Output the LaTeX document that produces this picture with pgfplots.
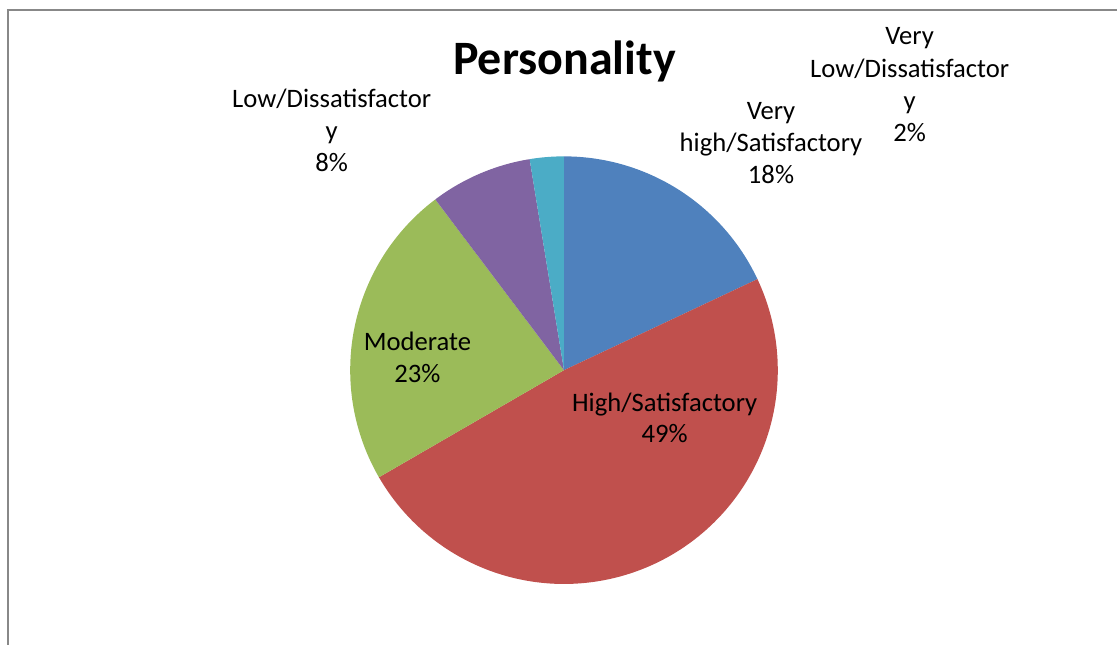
\documentclass[border=0pt]{standalone}
\usepackage{fontspec}
\setmainfont{Carlito}
\usepackage{pgfplots}
\pgfplotsset{compat=1.18}
\definecolor{cA}{HTML}{4F81BD}
\definecolor{cB}{HTML}{C0504D}
\definecolor{cC}{HTML}{9BBB59}
\definecolor{cD}{HTML}{8064A2}
\definecolor{cE}{HTML}{4BACC6}
\definecolor{frame}{HTML}{888888}
% slice values (percent)
\def\vA{18.00}  % Very high/Satisfactory
\def\vB{48.65}  % High/Satisfactory
\def\vC{23.07}  % Moderate
\def\vD{7.71}   % Low/Dissatisfactory
\def\vE{2.57}   % Very Low/Dissatisfactory
\def\cx{564.5}
\def\cy{275.5}
\def\rr{214}
\begin{document}
\begin{tikzpicture}
\begin{axis}[hide axis, scale only axis, width=419.25pt, height=242.25pt,
  xmin=0, xmax=1118, ymin=0, ymax=646, clip=false]
\addplot[fill=cA, draw=none, samples=80,
  domain={90-3.6*\vA}:{90}]
  ({\cx+\rr*cos(x)},{\cy+\rr*sin(x)}) -- (axis cs:\cx,\cy) -- cycle;
\addplot[fill=cB, draw=none, samples=120,
  domain={90-3.6*(\vA+\vB)}:{90-3.6*\vA}]
  ({\cx+\rr*cos(x)},{\cy+\rr*sin(x)}) -- (axis cs:\cx,\cy) -- cycle;
\addplot[fill=cC, draw=none, samples=80,
  domain={90-3.6*(\vA+\vB+\vC)}:{90-3.6*(\vA+\vB)}]
  ({\cx+\rr*cos(x)},{\cy+\rr*sin(x)}) -- (axis cs:\cx,\cy) -- cycle;
\addplot[fill=cD, draw=none, samples=40,
  domain={90-3.6*(\vA+\vB+\vC+\vD)}:{90-3.6*(\vA+\vB+\vC)}]
  ({\cx+\rr*cos(x)},{\cy+\rr*sin(x)}) -- (axis cs:\cx,\cy) -- cycle;
\addplot[fill=cE, draw=none, samples=20,
  domain={90-3.6*(\vA+\vB+\vC+\vD+\vE)}:{90-3.6*(\vA+\vB+\vC+\vD)}]
  ({\cx+\rr*cos(x)},{\cy+\rr*sin(x)}) -- (axis cs:\cx,\cy) -- cycle;
% frame
\draw[frame, line width=0.75pt] (axis cs:7,636) -- (axis cs:1118,636);
\draw[frame, line width=0.75pt] (axis cs:8,636.4) -- (axis cs:8,0);
% title
\node[anchor=base, font=\fontsize{18}{22}\selectfont\bfseries] at (axis cs:565,571) {Personality};
% labels
\begin{scope}[every node/.style={anchor=base, font=\fontsize{10}{12}\selectfont, inner sep=0pt}]
\node at (axis cs:910.5,601) {Very};
\node at (axis cs:910.5,568) {Low/Dissatisfactor};
\node at (axis cs:910.5,536) {y};
\node at (axis cs:910.5,504) {2\%};
\node at (axis cs:771.7,526) {Very};
\node at (axis cs:771.7,494) {high/Satisfactory};
\node at (axis cs:771.7,462) {18\%};
\node at (axis cs:332,538.7) {Low/Dissatisfactor};
\node at (axis cs:332,506.5) {y};
\node at (axis cs:332,474.3) {8\%};
\node at (axis cs:417.8,295.3) {Moderate};
\node at (axis cs:417.8,262.7) {23\%};
\node at (axis cs:665.3,234.3) {High/Satisfactory};
\node at (axis cs:665.3,203.3) {49\%};
\end{scope}
\path (axis cs:0,0) rectangle (axis cs:1118,646);
\end{axis}
\end{tikzpicture}
\end{document}
